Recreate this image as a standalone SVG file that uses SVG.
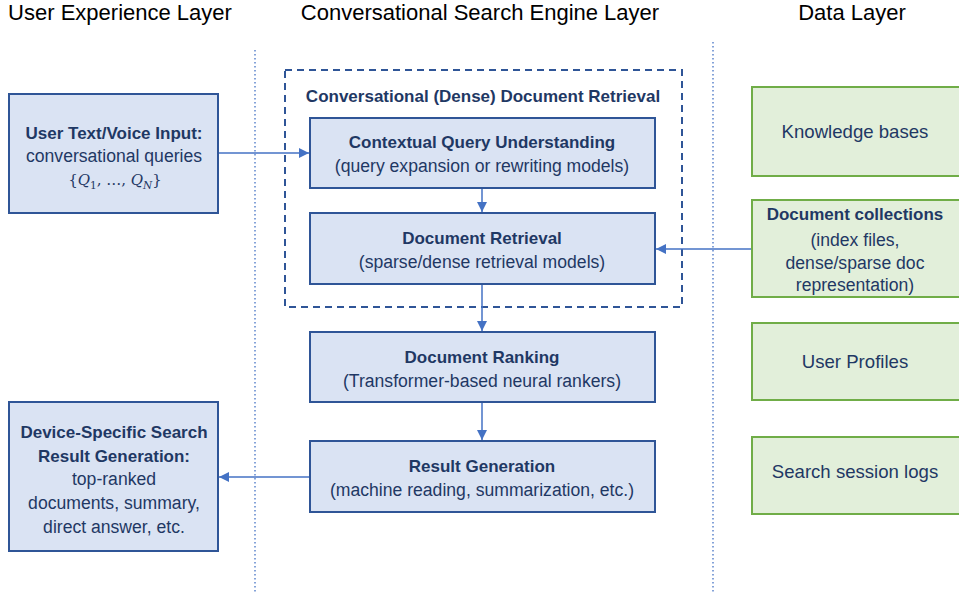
<svg xmlns="http://www.w3.org/2000/svg" width="959" height="594" viewBox="0 0 959 594">
<defs>
<marker id="ah" viewBox="0 0 10 10" refX="10" refY="5" markerWidth="10" markerHeight="10" markerUnits="userSpaceOnUse" orient="auto">
<path d="M0,0 L10,5 L0,10 z" fill="#4472c4"/>
</marker>
</defs>
<style>
text{font-family:"Liberation Sans",Arial,sans-serif;fill:#1f3864;text-anchor:middle}
.hdr{font-size:22px;fill:#000}
.t{font-size:17.6px}
.b{font-weight:bold;font-size:17px}
.g{font-size:18.6px}
.blue{fill:#dae3f3;stroke:#2f5597;stroke-width:2}
.green{fill:#e2efda;stroke:#70ad47;stroke-width:2}
.conn{stroke:#4472c4;stroke-width:1.5;fill:none;marker-end:url(#ah)}
.sep{stroke:#4472c4;stroke-width:1.3;stroke-dasharray:1.5 2.5}
.math{font-family:"DejaVu Serif","Liberation Serif",serif;font-size:15px}
</style>
<rect width="959" height="594" fill="#fff"/>
<g id="headers">
<text class="hdr" x="120" y="20">User Experience Layer</text>
<text class="hdr" x="480" y="20">Conversational Search Engine Layer</text>
<text class="hdr" x="852" y="20">Data Layer</text>
</g>
<g id="separators">
<line class="sep" x1="255" y1="50" x2="255" y2="594"/>
<line class="sep" x1="713" y1="42" x2="713" y2="594"/>
</g>
<g id="dense-retrieval-group">
<rect x="285" y="70" width="397" height="237" fill="none" stroke="#2f5597" stroke-width="2" stroke-dasharray="7 5"/>
<text class="b" x="483" y="102">Conversational (Dense) Document Retrieval</text>
</g>
<g id="user-input">
<rect class="blue" x="9" y="94" width="209" height="119"/>
<text class="b" x="114" y="139">User Text/Voice Input:</text>
<text class="t" x="114" y="162">conversational queries</text>
<text class="math" x="115" y="185">{<tspan font-style="italic">Q</tspan><tspan font-size="10.5" dy="4">1</tspan><tspan dy="-4">, …, </tspan><tspan font-style="italic">Q</tspan><tspan font-size="10.5" font-style="italic" dy="4">N</tspan><tspan dy="-4">}</tspan></text>
</g>
<g id="search-result">
<rect class="blue" x="9" y="402" width="209" height="149"/>
<text class="b" x="114" y="438">Device-Specific Search</text>
<text class="b" x="114" y="462">Result Generation:</text>
<text class="t" x="114" y="485">top-ranked</text>
<text class="t" x="114" y="509">documents, summary,</text>
<text class="t" x="114" y="533">direct answer, etc.</text>
</g>
<g id="query-understanding">
<rect class="blue" x="310" y="118" width="345" height="70"/>
<text class="b" x="482" y="148">Contextual Query Understanding</text>
<text class="t" x="482" y="172">(query expansion or rewriting models)</text>
</g>
<g id="document-retrieval">
<rect class="blue" x="310" y="213" width="345" height="71"/>
<text class="b" x="482" y="244">Document Retrieval</text>
<text class="t" x="482" y="268">(sparse/dense retrieval models)</text>
</g>
<g id="document-ranking">
<rect class="blue" x="310" y="332" width="345" height="70"/>
<text class="b" x="482" y="363">Document Ranking</text>
<text class="t" x="482" y="387">(Transformer-based neural rankers)</text>
</g>
<g id="result-generation">
<rect class="blue" x="310" y="441" width="345" height="71"/>
<text class="b" x="482" y="472">Result Generation</text>
<text class="t" x="482" y="496">(machine reading, summarization, etc.)</text>
</g>
<g id="knowledge-bases">
<rect class="green" x="752" y="87" width="215" height="89"/>
<text class="g" x="855" y="138">Knowledge bases</text>
</g>
<g id="document-collections">
<rect class="green" x="752" y="200" width="215" height="97"/>
<text class="b" x="855" y="220">Document collections</text>
<text class="t" x="855" y="246">(index files,</text>
<text class="t" x="855" y="269">dense/sparse doc</text>
<text class="t" x="855" y="291">representation)</text>
</g>
<g id="user-profiles">
<rect class="green" x="752" y="323" width="215" height="77"/>
<text class="g" x="855" y="368">User Profiles</text>
</g>
<g id="session-logs">
<rect class="green" x="752" y="437" width="215" height="77"/>
<text class="g" x="855" y="478">Search session logs</text>
</g>
<g id="connectors">
<line class="conn" x1="219" y1="153" x2="309" y2="153"/>
<line class="conn" x1="482" y1="189" x2="482" y2="212"/>
<line class="conn" x1="751" y1="249" x2="656" y2="249"/>
<line class="conn" x1="482" y1="285" x2="482" y2="331"/>
<line class="conn" x1="482" y1="403" x2="482" y2="440"/>
<line class="conn" x1="309" y1="477" x2="219" y2="477"/>
</g>
</svg>
